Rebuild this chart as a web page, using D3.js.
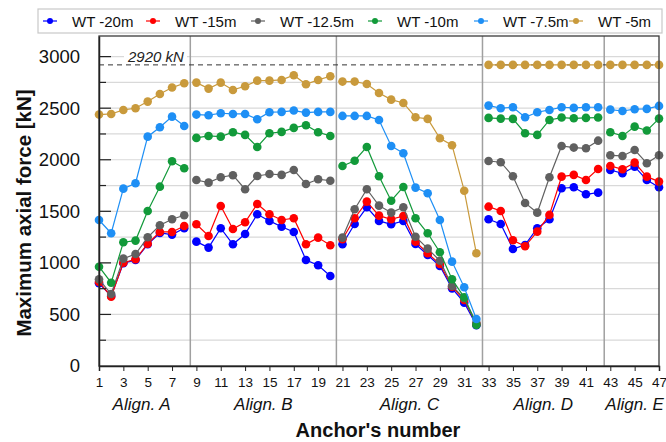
<!DOCTYPE html>
<html>
<head>
<meta charset="utf-8">
<script src="https://cdnjs.cloudflare.com/ajax/libs/d3/7.8.5/d3.min.js"></script>
<style>
  body { margin: 0; background: #fff; }
  svg { display: block; }
</style>
</head>
<body>
<svg id="chart" width="666" height="442"></svg>
<script>
// anchors 1..47 and the alignment each belongs to
var anchors = d3.range(1, 48);
var alignNames = ["Align. A", "Align. B", "Align. C", "Align. D", "Align. E"];
var alignStart = [1, 9, 21, 33, 43];
var alignEnd = [8, 20, 32, 42, 47];
var xTicks = d3.range(1, 48, 2);
var yTicks = [0, 500, 1000, 1500, 2000, 2500, 3000];
var limitValue = 2920;

var seriesNames = ["WT -20m", "WT -15m", "WT -12.5m", "WT -10m", "WT -7.5m", "WT -5m"];
var seriesColors = ["#0000ff", "#ff0000", "#606060", "#129a3a", "#1e8ff5", "#c99a3c"];

var wt20 = [802, 680, 996, 1029, 1180, 1290, 1274, 1336,
  1206, 1148, 1336, 1180, 1280, 1471, 1407, 1351, 1300, 1028, 977, 873,
  1180, 1377, 1539, 1407, 1374, 1407, 1183, 1077, 970, 753, 614, 395,
  1423, 1377, 1135, 1174, 1336, 1423, 1724, 1733, 1665, 1681,
  1901, 1869, 1933, 1804, 1733];
var wt15 = [815, 672, 1002, 1035, 1186, 1300, 1300, 1358,
  1374, 1261, 1552, 1329, 1394, 1571, 1471, 1416, 1433, 1180, 1245, 1171,
  1229, 1433, 1594, 1458, 1423, 1455, 1206, 1093, 989, 769, 640, 407,
  1545, 1503, 1219, 1161, 1303, 1465, 1836, 1853, 1804, 1911,
  1940, 1908, 1972, 1836, 1788];
var wt125 = [841, 698, 1041, 1086, 1248, 1365, 1423, 1462,
  1804, 1778, 1830, 1850, 1714, 1843, 1862, 1853, 1901, 1765, 1811, 1797,
  1245, 1520, 1714, 1555, 1487, 1539, 1254, 1138, 1021, 776, 657, 420,
  1988, 1976, 1840, 1581, 1487, 1830, 2134, 2118, 2111, 2185,
  2043, 2037, 2095, 1966, 2043];
var wt10 = [963, 808, 1200, 1216, 1503, 1739, 1985, 1917,
  2212, 2231, 2224, 2267, 2241, 2124, 2257, 2270, 2309, 2335, 2267, 2231,
  1940, 1991, 2124, 1840, 1603, 1736, 1433, 1287, 1103, 841, 666, 398,
  2406, 2399, 2396, 2257, 2241, 2386, 2409, 2402, 2406, 2409,
  2267, 2231, 2321, 2283, 2399];
var wt75 = [1416, 1287, 1720, 1772, 2224, 2315, 2418, 2328,
  2438, 2432, 2451, 2444, 2444, 2393, 2461, 2464, 2477, 2457, 2464, 2464,
  2425, 2425, 2425, 2386, 2134, 2063, 1730, 1675, 1416, 1012, 763, 456,
  2525, 2500, 2509, 2412, 2461, 2483, 2509, 2503, 2509, 2509,
  2486, 2473, 2490, 2493, 2522];
var wt5 = [2438, 2444, 2483, 2499, 2564, 2638, 2700, 2742,
  2748, 2690, 2748, 2677, 2713, 2767, 2767, 2774, 2820, 2732, 2774, 2810,
  2758, 2758, 2735, 2648, 2583, 2551, 2412, 2396, 2209, 2141, 1700, 1093,
  2920, 2920, 2920, 2920, 2920, 2920, 2920, 2920, 2920, 2920,
  2920, 2920, 2920, 2920, 2920];
var seriesValues = [wt20, wt15, wt125, wt10, wt75, wt5];

var font = "Liberation Sans, Arial, sans-serif";

var svg = d3.select("#chart"),
  margin = { top: 36, right: 6, bottom: 76, left: 99 },
  width = +svg.attr("width"),
  height = +svg.attr("height"),
  plotW = width - margin.left - margin.right,
  plotH = height - margin.top - margin.bottom;

var x = d3.scaleLinear().domain([1, 47]).range([0, plotW - 1]);
var y = d3.scaleLinear().domain([0, 3200]).range([plotH, 0]);

var g = svg.append("g")
  .attr("transform", "translate(" + margin.left + "," + margin.top + ")");

// light grid every 250
g.append("g").selectAll("line")
  .data(d3.range(250, 3001, 250))
  .enter().append("line")
  .attr("x1", 0).attr("x2", x(47))
  .attr("y1", function (d) { return y(d); })
  .attr("y2", function (d) { return y(d); })
  .attr("stroke", "#d9d9d9")
  .attr("stroke-width", 1.2);

// alignment separators
g.append("g").selectAll("line")
  .data(alignEnd.slice(0, 4))
  .enter().append("line")
  .attr("x1", function (d) { return x(d + 0.5); })
  .attr("x2", function (d) { return x(d + 0.5); })
  .attr("y1", 0).attr("y2", plotH)
  .attr("stroke", "#a0a0a0")
  .attr("stroke-width", 1.5);

// 2920 kN limit
g.append("line")
  .attr("x1", 0).attr("x2", x(47))
  .attr("y1", y(limitValue)).attr("y2", y(limitValue))
  .attr("stroke", "#333")
  .attr("stroke-width", 1)
  .attr("stroke-dasharray", "5,4");
g.append("rect")
  .attr("x", 25).attr("y", y(3000) - 10)
  .attr("width", 63).attr("height", 15)
  .attr("fill", "#fff");
g.append("text")
  .attr("x", 29)
  .attr("y", y(3000) + 5)
  .attr("font-family", font)
  .attr("font-style", "italic")
  .attr("font-size", 15)
  .attr("fill", "#222")
  .text("2920 kN");

// series, one path per alignment
var line = d3.line()
  .x(function (d) { return x(d.a); })
  .y(function (d) { return y(d.v); });

seriesValues.forEach(function (vals, i) {
  var pts = anchors.map(function (a, k) { return { a: a, v: vals[k] }; });
  var sg = g.append("g").attr("class", "series");
  alignStart.forEach(function (s, j) {
    var seg = pts.filter(function (p) { return p.a >= s && p.a <= alignEnd[j]; });
    sg.append("path")
      .datum(seg)
      .attr("d", line)
      .attr("fill", "none")
      .attr("stroke", seriesColors[i])
      .attr("stroke-width", 1.2);
  });
  sg.selectAll("circle")
    .data(pts)
    .enter().append("circle")
    .attr("r", 4.3)
    .attr("cx", function (d) { return x(d.a); })
    .attr("cy", function (d) { return y(d.v); })
    .attr("fill", seriesColors[i]);
});

// frame
g.append("rect")
  .attr("x", 0).attr("y", 0)
  .attr("width", x(47)).attr("height", plotH)
  .attr("fill", "none")
  .attr("stroke", "#3a3a3a")
  .attr("stroke-width", 1.3);

// y axis
var yAxis = g.append("g")
  .call(d3.axisLeft(y).tickValues(yTicks).tickSize(0).tickPadding(19).tickFormat(d3.format("d")));
yAxis.select(".domain").attr("stroke", "#222").attr("stroke-width", 1.5);
yAxis.selectAll("text")
  .attr("font-family", font)
  .attr("font-size", 18.5)
  .attr("fill", "#111");
g.append("g").selectAll("line")
  .data(d3.range(250, 3001, 250))
  .enter().append("line")
  .attr("x1", 0).attr("x2", function (d) { return d % 500 === 0 ? 12 : 7; })
  .attr("y1", function (d) { return y(d); })
  .attr("y2", function (d) { return y(d); })
  .attr("stroke", "#222")
  .attr("stroke-width", 1.2);

// x axis
var xAxis = g.append("g")
  .attr("transform", "translate(0," + plotH + ")")
  .call(d3.axisBottom(x).tickValues(xTicks).tickSize(5).tickPadding(6).tickFormat(d3.format("d")));
xAxis.select(".domain").attr("stroke", "#222").attr("stroke-width", 1.5);
xAxis.selectAll("line").attr("stroke", "#222");
xAxis.selectAll("text")
  .attr("font-family", font)
  .attr("font-size", 13.5)
  .attr("fill", "#111");

// alignment names
g.append("g").selectAll("text")
  .data(alignNames)
  .enter().append("text")
  .attr("x", function (d, j) { return x((alignStart[j] + alignEnd[j]) / 2); })
  .attr("y", 410 - margin.top)
  .attr("text-anchor", "middle")
  .attr("font-family", font)
  .attr("font-style", "italic")
  .attr("font-size", 17)
  .attr("fill", "#111")
  .text(function (d) { return d; });

// axis titles
svg.append("text")
  .attr("x", 378)
  .attr("y", 437)
  .attr("text-anchor", "middle")
  .attr("font-family", font)
  .attr("font-weight", "bold")
  .attr("font-size", 20)
  .attr("fill", "#111")
  .text("Anchor's number");

svg.append("text")
  .attr("text-anchor", "middle")
  .attr("transform", "translate(31,213)rotate(-90)")
  .attr("font-family", font)
  .attr("font-weight", "bold")
  .attr("font-size", 20.5)
  .attr("fill", "#111")
  .text("Maximum axial force [kN]");

// legend
var legend = svg.append("g").attr("transform", "translate(38,9)");
legend.append("rect")
  .attr("width", 624).attr("height", 24)
  .attr("fill", "#fff")
  .attr("stroke", "#c8c8c8")
  .attr("stroke-width", 1.2);
var legendX = [12, 115, 220, 337, 443, 538];
var items = legend.selectAll("g.item")
  .data(seriesNames)
  .enter().append("g")
  .attr("transform", function (d, i) { return "translate(" + legendX[i] + ",12)"; });
items.append("line")
  .attr("x1", -7).attr("x2", 7)
  .attr("stroke", function (d, i) { return seriesColors[i]; })
  .attr("stroke-width", 1.2);
items.append("circle")
  .attr("r", 3)
  .attr("fill", function (d, i) { return seriesColors[i]; });
items.append("text")
  .attr("x", 22)
  .attr("y", 5.5)
  .attr("font-family", font)
  .attr("font-size", 15)
  .attr("fill", "#111")
  .text(function (d) { return d; });
</script>
</body>
</html>
